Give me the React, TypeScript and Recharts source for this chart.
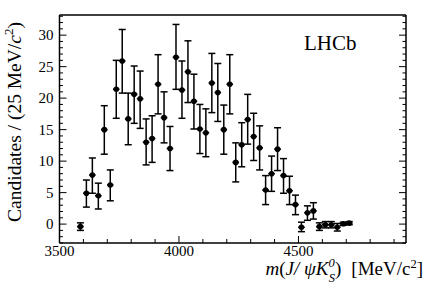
import { ComposedChart, ErrorBar, Scatter, XAxis, YAxis } from 'recharts'

const mass = [
  3587.5, 3612.5, 3637.5, 3662.5, 3687.5, 3712.5, 3737.5, 3762.5, 3787.5, 3812.5,
  3837.5, 3862.5, 3887.5, 3912.5, 3937.5, 3962.5, 3987.5, 4012.5, 4037.5, 4062.5,
  4087.5, 4112.5, 4137.5, 4162.5, 4187.5, 4212.5, 4237.5, 4262.5, 4287.5, 4312.5,
  4337.5, 4362.5, 4387.5, 4412.5, 4437.5, 4462.5, 4487.5, 4512.5, 4537.5, 4562.5,
  4587.5, 4612.5, 4637.5, 4662.5, 4687.5, 4712.5,
]
const counts = [
  -0.4, 4.9, 7.8, 4.5, 15.0, 6.2, 21.4, 25.9, 16.7, 20.6,
  19.9, 13.0, 13.6, 22.2, 16.9, 12.0, 26.5, 21.3, 24.2, 19.5,
  15.1, 14.5, 22.4, 20.9, 15.0, 22.2, 9.8, 12.6, 16.6, 13.9,
  12.1, 5.4, 8.0, 11.9, 7.7, 5.3, 3.1, -0.5, 1.8, 2.1,
  -0.4, -0.1, -0.1, -0.5, 0.05, 0.15,
]
const errHigh = [
  0.6, 2.1, 2.7, 2.0, 3.8, 2.4, 4.6, 5.0, 4.1, 4.5,
  4.4, 3.7, 3.6, 4.7, 4.1, 3.5, 5.2, 4.6, 4.9, 4.3,
  3.9, 3.8, 4.7, 4.6, 3.9, 4.7, 3.1, 3.5, 4.0, 3.7,
  3.5, 2.3, 2.8, 3.4, 2.7, 2.3, 1.5, 0.8, 1.1, 1.3,
  0.6, 0.5, 0.5, 0.6, 0.25, 0.25,
]
const errLow = [
  0.6, 2.2, 2.9, 2.1, 3.9, 2.5, 4.6, 5.1, 4.1, 4.6,
  4.7, 3.6, 3.8, 4.7, 4.0, 3.5, 5.1, 4.5, 4.9, 4.4,
  3.9, 3.8, 4.7, 4.6, 3.9, 4.7, 3.1, 3.5, 3.9, 3.8,
  3.5, 2.3, 2.8, 3.4, 2.8, 2.2, 1.6, 0.7, 1.2, 1.3,
  0.6, 0.5, 0.5, 0.6, 0.25, 0.25,
]
const xTicks = [3500, 3600, 3700, 3800, 3900, 4000, 4100, 4200, 4300, 4400, 4500, 4600, 4700, 4800, 4900]
const yTicks = [-3, -2, -1, 0, 1, 2, 3, 4, 5, 6, 7, 8, 9, 10, 11, 12, 13, 14, 15, 16, 17, 18, 19, 20,
  21, 22, 23, 24, 25, 26, 27, 28, 29, 30, 31, 32, 33]

const points = mass.map((m, i) => ({ x: m, y: counts[i], err: [errLow[i], errHigh[i]] }))

const font = '"Liberation Serif", "DejaVu Serif", serif'
const textStyle = { fontFamily: font }

function Marker(props: any) {
  const { cx, cy } = props
  return (
    <g>
      <line x1={cx - 3.3} x2={cx + 3.3} y1={cy} y2={cy} stroke="#000" strokeWidth={1.6} />
      <circle cx={cx} cy={cy} r={2.8} fill="#000" />
    </g>
  )
}

function BottomTick(props: any) {
  const { x, y, payload } = props
  const major = payload.value % 500 === 0
  return (
    <g>
      <line x1={x} x2={x} y1={y} y2={y - (major ? 7 : 4)} stroke="#000" strokeWidth={1} />
      {major && (
        <text x={x} y={y + 13} textAnchor="middle" style={textStyle} fontSize={15} fill="#000">
          {payload.value}
        </text>
      )}
    </g>
  )
}

function TopTick(props: any) {
  const { x, y, payload } = props
  const major = payload.value % 500 === 0
  return <line x1={x} x2={x} y1={y} y2={y + (major ? 7 : 4)} stroke="#000" strokeWidth={1} />
}

function LeftTick(props: any) {
  const { x, y, payload } = props
  const major = payload.value % 5 === 0
  return (
    <g>
      <line x1={x} x2={x + (major ? 7 : 3.5)} y1={y} y2={y} stroke="#000" strokeWidth={1} />
      {major && (
        <text x={x - 6} y={y + 5} textAnchor="end" style={textStyle} fontSize={15} fill="#000">
          {payload.value}
        </text>
      )}
    </g>
  )
}

function RightTick(props: any) {
  const { x, y, payload } = props
  const major = payload.value % 5 === 0
  return <line x1={x} x2={x - (major ? 7 : 3.5)} y1={y} y2={y} stroke="#000" strokeWidth={1} />
}

const axisLine = { stroke: '#000', strokeWidth: 1.5 }

export default function App() {
  return (
    <div style={{ position: 'fixed', left: 0, top: 0, width: 427, height: 290, background: '#fff' }}>
      <ComposedChart width={427} height={290} margin={{ top: 14, right: 20, bottom: 0, left: 9.5 }}>
        <XAxis xAxisId="b" dataKey="x" type="number" domain={[3500, 4950]} allowDataOverflow ticks={xTicks}
          interval={0} tickSize={0} tickMargin={0} tickLine={false} axisLine={axisLine} tick={<BottomTick />} height={47} />
        <XAxis xAxisId="t" orientation="top" type="number" domain={[3500, 4950]} allowDataOverflow ticks={xTicks}
          interval={0} tickSize={0} tickMargin={0} tickLine={false} axisLine={axisLine} tick={<TopTick />} height={1} />
        <YAxis yAxisId="l" dataKey="y" type="number" domain={[-3, 33.2]} allowDataOverflow ticks={yTicks}
          interval={0} tickSize={0} tickMargin={0} tickLine={false} axisLine={axisLine} tick={<LeftTick />} width={50} />
        <YAxis yAxisId="r" orientation="right" type="number" domain={[-3, 33.2]} allowDataOverflow ticks={yTicks}
          interval={0} tickSize={0} tickMargin={0} tickLine={false} axisLine={axisLine} tick={<RightTick />} width={1} />
        <Scatter data={points} xAxisId="b" yAxisId="l" dataKey="y" shape={<Marker />} isAnimationActive={false}>
          <ErrorBar dataKey="err" direction="y" width={3.5} stroke="#000" strokeWidth={1.5} isAnimationActive={false} />
        </Scatter>
      </ComposedChart>
      <svg width={427} height={290} style={{ position: 'absolute', left: 0, top: 0, pointerEvents: 'none' }}>
        <text x={304} y={50} style={textStyle} fontSize={21} fill="#000">LHCb</text>
        <text transform="translate(21,122) rotate(-90)" textAnchor="middle" style={textStyle} fontSize={19.5} fill="#000">
          Candidates / (25 MeV/<tspan fontStyle="italic">c</tspan>
          <tspan fontSize={13} dy={-8}>2</tspan>
          <tspan dy={8}>)</tspan>
        </text>
        <text x={423} y={275} textAnchor="end" style={textStyle} fontSize={19} fill="#000">
          <tspan fontStyle="italic">m</tspan>(<tspan fontStyle="italic">J/ ψK</tspan>
          <tspan fontSize={12.5} fontStyle="italic" dy={-8}>0</tspan>
          <tspan fontSize={12.5} fontStyle="italic" dx={-6} dy={14.5}>S</tspan>
          <tspan dy={-6.5}>)</tspan>
          <tspan dx={10}>[MeV/c</tspan>
          <tspan fontSize={12.5} dy={-7}>2</tspan>
          <tspan dy={7}>]</tspan>
        </text>
      </svg>
    </div>
  )
}
